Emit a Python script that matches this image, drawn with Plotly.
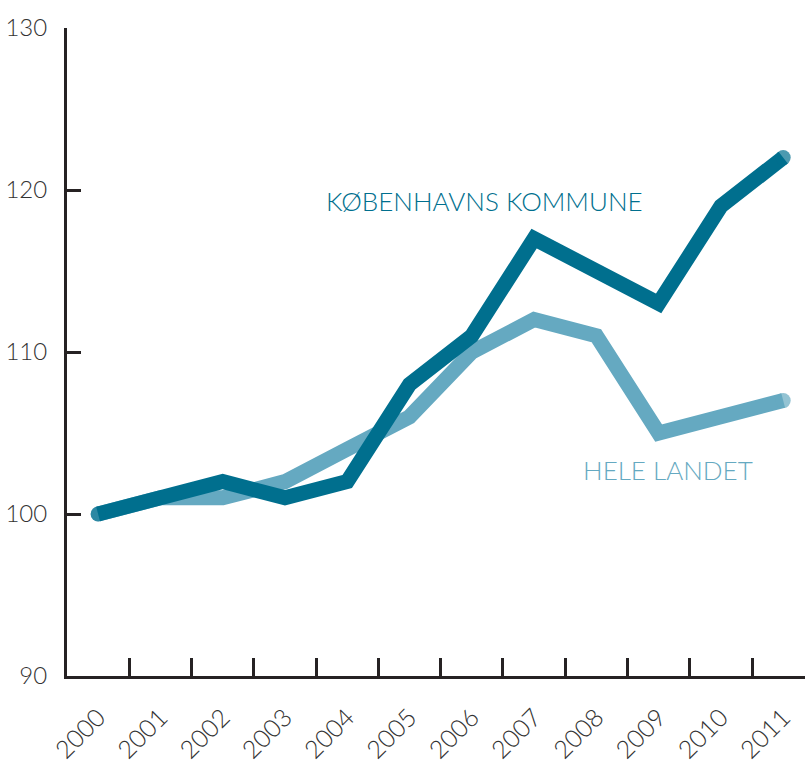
import plotly.graph_objects as go

years = ["2000", "2001", "2002", "2003", "2004", "2005", "2006", "2007", "2008", "2009", "2010", "2011"]
kbh = [100, 101, 102, 101, 102, 108, 111, 117, 115, 113, 119, 122]
hele = [100, 101, 101, 102, 104, 106, 110, 112, 111, 105, 106, 107]
y_ticks = [90, 100, 110, 120, 130]

dark = "#006f8e"
light = "#65a9c1"
axis_col = "#262223"
font_fam = "Lato, 'Open Sans', sans-serif"
LW = 15

def caps(n, s):
    return [s] + [0] * (n - 2) + [s]

fig = go.Figure()
fig.add_trace(go.Scatter(
    x=years, y=hele, mode="lines+markers",
    line=dict(color=light, width=LW),
    marker=dict(color=light, size=caps(len(hele), LW), line=dict(width=0)),
    hoverinfo="skip", showlegend=False, cliponaxis=False))
fig.add_trace(go.Scatter(
    x=years, y=kbh, mode="lines+markers",
    line=dict(color=dark, width=LW),
    marker=dict(color=dark, size=caps(len(kbh), LW), line=dict(width=0)),
    hoverinfo="skip", showlegend=False, cliponaxis=False))

fig.add_annotation(x=3.63, y=119.3, xref="x", yref="y", text="KØBENHAVNS KOMMUNE",
                   showarrow=False, xanchor="left", yanchor="middle",
                   font=dict(family=font_fam, size=26, color=dark, weight=300))
fig.add_annotation(x=7.76, y=102.7, xref="x", yref="y", text="HELE LANDET",
                   showarrow=False, xanchor="left", yanchor="middle",
                   font=dict(family=font_fam, size=26, color=light, weight=300))

fig.update_layout(
    width=805, height=763, autosize=False,
    margin=dict(l=67, r=0, t=28, b=87, autoexpand=False),
    paper_bgcolor="white", plot_bgcolor="white",
    font=dict(family=font_fam, color="#333333"),
    xaxis=dict(
        type="category", range=[-0.5, 11.35], tickson="boundaries",
        showgrid=False, zeroline=False, automargin=False,
        showline=True, linecolor=axis_col, linewidth=3,
        ticks="inside", ticklen=18, tickwidth=2.5, tickcolor=axis_col,
        tickangle=-45, tickfont=dict(size=25, color="#333333", weight=300),
        ticklabelstandoff=14,
    ),
    yaxis=dict(
        range=[90, 130], tickvals=y_ticks, ticktext=[str(v) for v in y_ticks],
        showgrid=False, zeroline=False, automargin=False,
        showline=True, linecolor=axis_col, linewidth=3,
        ticks="inside", ticklen=14, tickwidth=3, tickcolor=axis_col,
        tickfont=dict(size=24, color="#333333", weight=300),
        ticklabelstandoff=12,
    ),
)

fig.write_html("out.html", config={"responsive": False, "displayModeBar": False},
               post_script="document.body.style.margin='0';document.body.style.overflow='hidden';")
